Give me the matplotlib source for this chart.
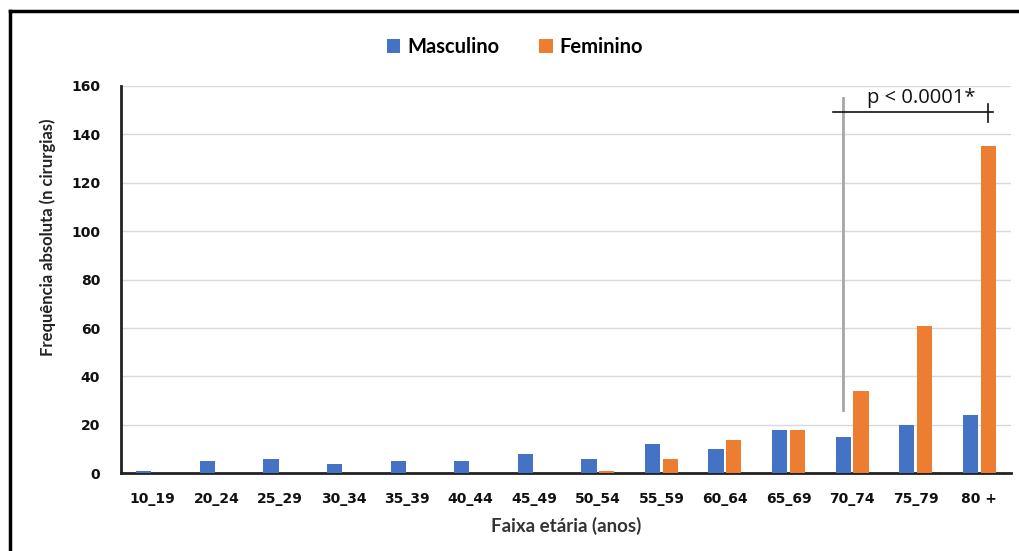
import matplotlib
matplotlib.use("Agg")
import matplotlib.pyplot as plt
from matplotlib.lines import Line2D
from matplotlib.patches import Patch
import numpy as np

# surgeries per age group, by sex
faixas = ["10_19", "20_24", "25_29", "30_34", "35_39", "40_44", "45_49",
          "50_54", "55_59", "60_64", "65_69", "70_74", "75_79", "80 +"]
masculino = [1, 5, 6, 4, 5, 5, 8, 6, 12, 10, 18, 15, 20, 24]
feminino = [0, 0, 0, 0, 0, 0, 0, 1, 6, 14, 18, 34, 61, 135]
y_ticks = [0, 20, 40, 60, 80, 100, 120, 140, 160]

AZUL = "#4472C4"
LARANJA = "#ED7D31"
TICK_FONT = ["DejaVu Sans"]
LABEL_FONT = ["Lato", "DejaVu Sans"]

fig = plt.figure(figsize=(10.19, 5.51), dpi=100)
ax = fig.add_axes([0.1187, 0.1407, 0.8735, 0.704])

x = np.arange(len(faixas))
w = 0.24
off = 0.14
ax.bar(x - off, masculino, width=w, color=AZUL, zorder=3)
ax.bar(x + off, feminino, width=w, color=LARANJA, zorder=3)

ax.set_xlim(-0.5, len(faixas) - 0.5)
ax.set_ylim(0, 160)
ax.set_yticks(y_ticks)
ax.set_xticks(x)
ax.set_xticklabels(faixas)
ax.yaxis.grid(True, color="#d9d9d9", linewidth=1, zorder=0)
ax.set_axisbelow(True)

for s in ["top", "right"]:
    ax.spines[s].set_visible(False)
for s in ["left", "bottom"]:
    ax.spines[s].set_color("#222222")
    ax.spines[s].set_linewidth(2)
ax.tick_params(axis="both", length=0, colors="#111111")
ax.tick_params(axis="x", pad=13)
ax.tick_params(axis="y", pad=15)
for lbl in ax.get_xticklabels() + ax.get_yticklabels():
    lbl.set_family(TICK_FONT)
    lbl.set_fontweight("bold")
    lbl.set_fontsize(10)

# significance bracket over the older age groups
ax.plot([11 - off, 11 - off], [26, 155], color="#a6a6a6", linewidth=2, zorder=4)
ax.plot([10.7, 13.22], [149, 149], color="#111111", linewidth=1.2, zorder=4)
ax.plot([13 + off, 13 + off], [145, 152.5], color="#111111", linewidth=1.2, zorder=4)
ax.text(12.08, 155, "p < 0.0001*", ha="center", va="center", fontsize=14.5,
        family=["Open Sans", "DejaVu Sans"], color="#111111")

# axis titles
fig.text(48 / 1019, 1 - 237 / 551, "Frequência absoluta (n cirurgias)", rotation=90,
         ha="center", va="center", fontsize=12, fontweight="bold",
         family=LABEL_FONT, color="#222222")
fig.text(566 / 1019, 1 - 526 / 551, "Faixa etária (anos)", ha="center", va="center",
         fontsize=13.5, fontweight="bold", family=LABEL_FONT, color="#333333")

handles = [Patch(facecolor=AZUL, label="Masculino"),
           Patch(facecolor=LARANJA, label="Feminino")]
fig.legend(handles=handles, loc="center", bbox_to_anchor=(515 / 1019, 1 - 47 / 551),
           ncol=2, frameon=False, handlelength=0.65, handleheight=0.65,
           handletextpad=0.35, columnspacing=2.0,
           prop={"family": LABEL_FONT, "weight": "bold", "size": 14.5})

# frame around the figure
fig.add_artist(Line2D([10 / 1019, 10 / 1019], [0, 1 - 11 / 551], color="black",
                      linewidth=2.5, transform=fig.transFigure))
fig.add_artist(Line2D([10 / 1019, 1], [1 - 11 / 551, 1 - 11 / 551], color="black",
                      linewidth=2.5, transform=fig.transFigure))

fig.savefig("out.png", dpi=100)
